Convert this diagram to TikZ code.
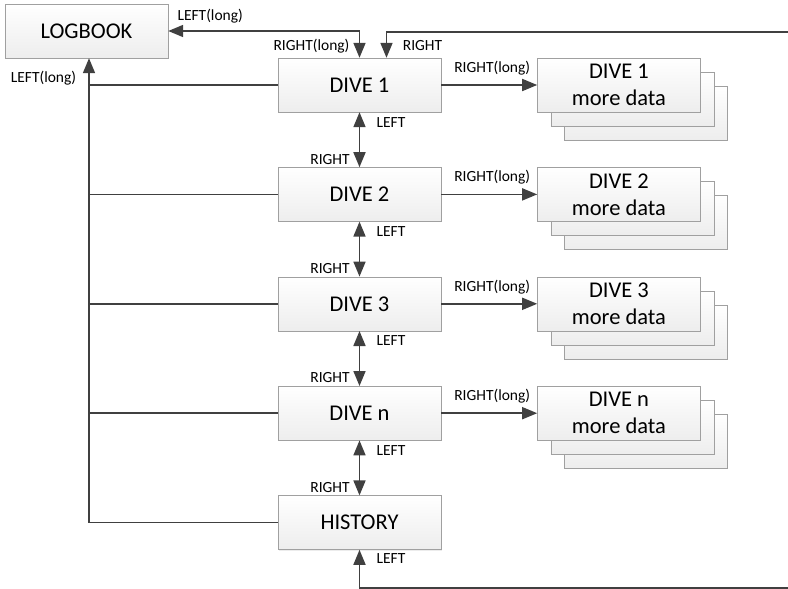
\documentclass[tikz,border=0pt]{standalone}
\usepackage{fontspec}
\setmainfont{Carlito}
\usepackage{xcolor}
\usepackage{tikz}
\usetikzlibrary{arrows.meta, positioning, calc, backgrounds, shadows}

\definecolor{linegray}{HTML}{404040}
\definecolor{boxline}{HTML}{A0A0A0}

\begin{document}
\begin{tikzpicture}[
    x=1pt, y=1pt,
    >={Triangle[length=15pt, width=12pt]},
    box/.style={rectangle, draw=boxline, top color=white, bottom color=gray!14, minimum width=163pt, minimum height=54pt, inner sep=2pt, align=center, font=\fontsize{22.5}{27}\selectfont, drop shadow={shadow xshift=1pt, shadow yshift=-1pt, fill=gray!30}},
    conn/.style={draw=linegray, line width=1.7pt},
    lbl/.style={font=\fontsize{15.5}{17}\selectfont, inner sep=1pt}
]
\useasboundingbox (0,0) rectangle (788,-589);

% main column
\node [box] (lb) at (86.5,-31) {LOGBOOK};
\node [box] (d1) at (359.5,-85) {DIVE 1};
\node [box, below=55pt of d1] (d2) {DIVE 2};
\node [box, below=55pt of d2] (d3) {DIVE 3};
\node [box, below=55pt of d3] (dn) {DIVE n};
\node [box, below=55pt of dn] (hi) {HISTORY};

% more data stacks
\node [box, right=96pt of d1] (m1) {DIVE 1\\more data};
\node [box, right=96pt of d2] (m2) {DIVE 2\\more data};
\node [box, right=96pt of d3] (m3) {DIVE 3\\more data};
\node [box, right=96pt of dn] (mn) {DIVE n\\more data};
\begin{scope}[on background layer]
    \node [box] (m1c) at ($(m1)+(27,-28)$) {};
    \node [box] (m1b) at ($(m1)+(13.5,-14)$) {};
    \node [box] (m2c) at ($(m2)+(27,-28)$) {};
    \node [box] (m2b) at ($(m2)+(13.5,-14)$) {};
    \node [box] (m3c) at ($(m3)+(27,-28)$) {};
    \node [box] (m3b) at ($(m3)+(13.5,-14)$) {};
    \node [box] (mnc) at ($(mn)+(27,-28)$) {};
    \node [box] (mnb) at ($(mn)+(13.5,-14)$) {};
\end{scope}

\coordinate (bus) at ([xshift=2.5pt]lb.south);
\coordinate (rt) at (788,-32);
\coordinate (rb) at (788,-588);

% connectors
\draw [conn, <->] (lb.east) -| (d1.north);
\draw [conn, ->] (rt) -| ([xshift=27pt]d1.north);
\draw [conn, ->] (hi.west) -| (bus);
\draw [conn] (d1.west) -- (d1.west -| bus);
\draw [conn] (d2.west) -- (d2.west -| bus);
\draw [conn] (d3.west) -- (d3.west -| bus);
\draw [conn] (dn.west) -- (dn.west -| bus);
\draw [conn, <->] (d1) -- (d2);
\draw [conn, <->] (d2) -- (d3);
\draw [conn, <->] (d3) -- (dn);
\draw [conn, <->] (dn) -- (hi);
\draw [conn, ->] (rb) -| (hi.south);
\draw [conn, ->] (d1) -- (m1);
\draw [conn, ->] (d2) -- (m2);
\draw [conn, ->] (d3) -- (m3);
\draw [conn, ->] (dn) -- (mn);

% labels
\node [lbl] (t1) at ($(lb.east)+(42,15)$) {LEFT(long)};
\node [lbl] (t2) at ($(d1.north)+(-48,12)$) {RIGHT(long)};
\node [lbl] (t3) at ($(d1.north)+(63,12)$) {RIGHT};
\node [lbl] (t4) at ($(lb.south)+(-43,-20)$) {LEFT(long)};
\node [lbl] (r1) at ($(d1.east)+(51,17)$) {RIGHT(long)};
\node [lbl] (r2) at ($(d2.east)+(51,17)$) {RIGHT(long)};
\node [lbl] (r3) at ($(d3.east)+(51,17)$) {RIGHT(long)};
\node [lbl] (rn) at ($(dn.east)+(51,17)$) {RIGHT(long)};
\node [lbl] (l1) at ($(d1.south)+(31.5,-10)$) {LEFT};
\node [lbl] (l2) at ($(d2.south)+(31.5,-10)$) {LEFT};
\node [lbl] (l3) at ($(d3.south)+(31.5,-10)$) {LEFT};
\node [lbl] (ln) at ($(dn.south)+(31.5,-10)$) {LEFT};
\node [lbl] (lh) at ($(hi.south)+(31.5,-9)$) {LEFT};
\node [lbl] (s2) at ($(d2.north)+(-29.5,8)$) {RIGHT};
\node [lbl] (s3) at ($(d3.north)+(-29.5,8)$) {RIGHT};
\node [lbl] (sn) at ($(dn.north)+(-29.5,8)$) {RIGHT};
\node [lbl] (sh) at ($(hi.north)+(-29.5,8)$) {RIGHT};
\end{tikzpicture}
\end{document}
